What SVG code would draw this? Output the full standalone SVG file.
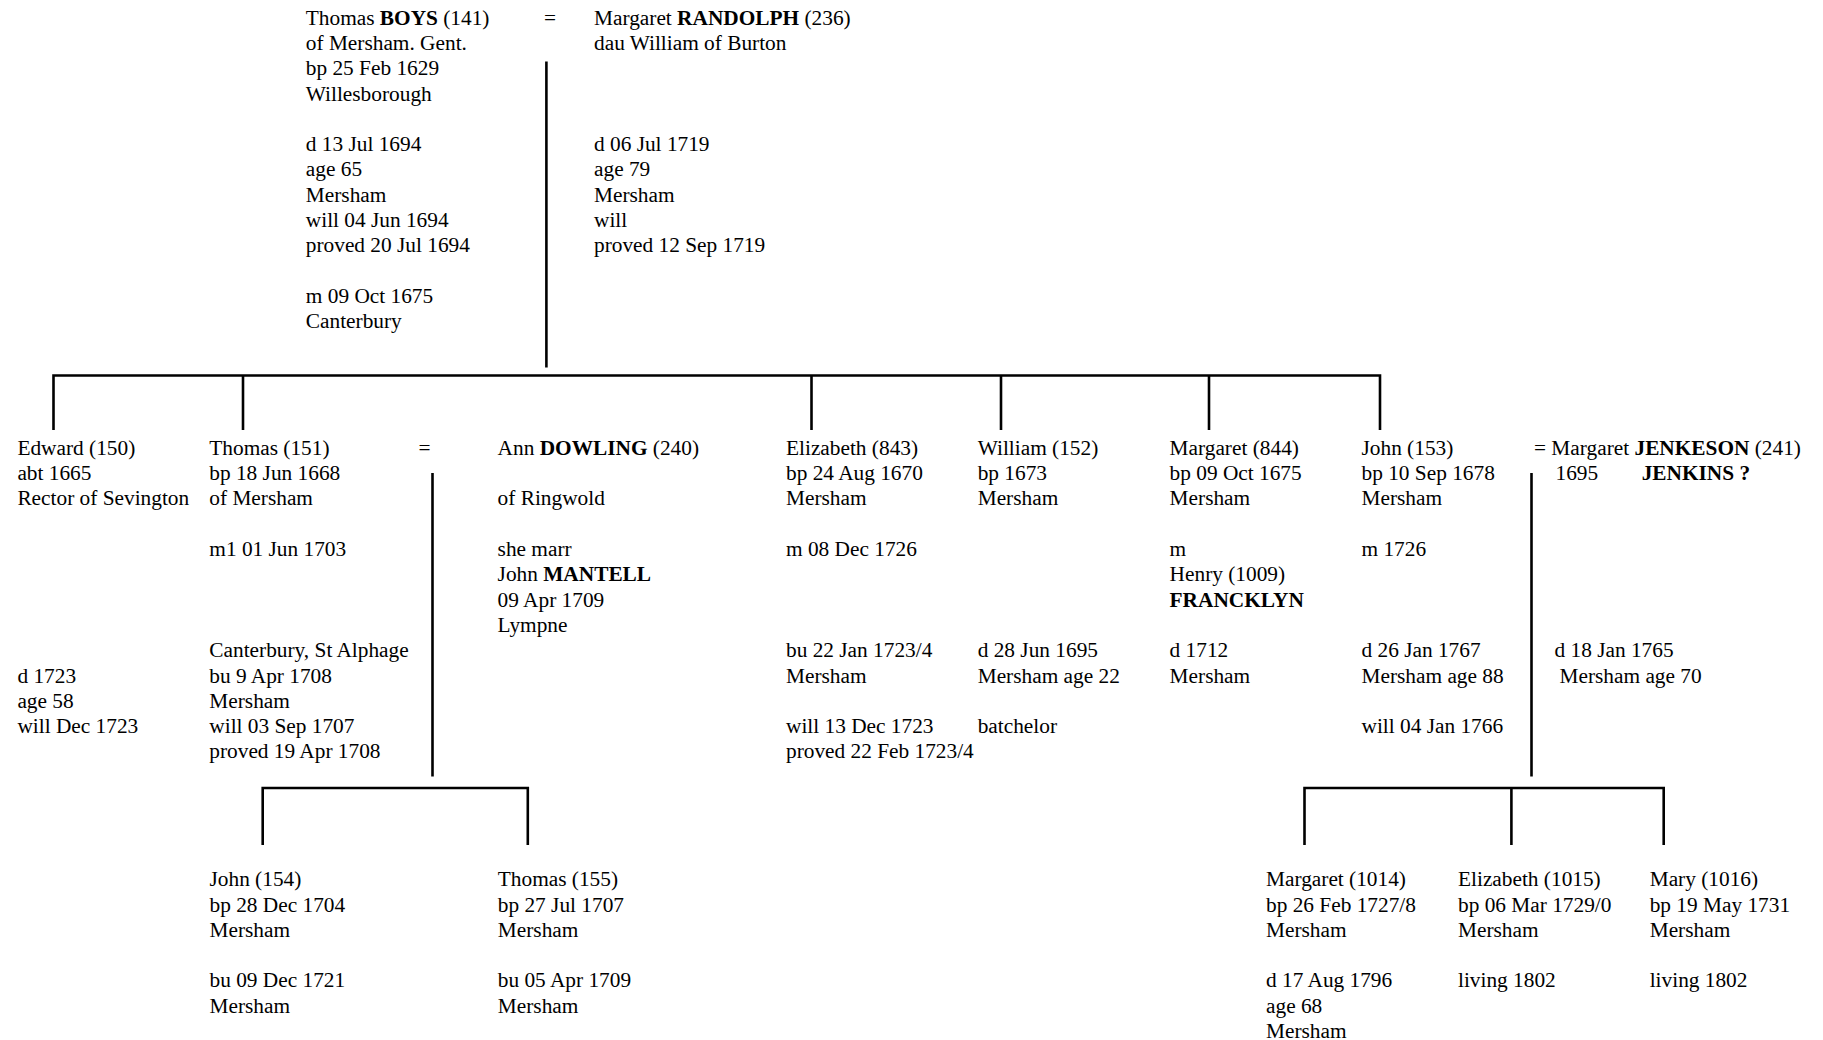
<svg xmlns="http://www.w3.org/2000/svg" width="1823" height="1040" viewBox="0 0 1823 1040">
<style>
text{font-family:"Liberation Serif","Times New Roman",serif;font-size:21.33px;fill:#000}
.b{font-weight:bold}
.ln{stroke:#000;stroke-width:2.6;fill:none}
</style>
<rect width="1823" height="1040" fill="#fff"/>
<g id="connectors">
<line class="ln" x1="546.4" y1="61.6" x2="546.4" y2="367.4"/>
<polyline class="ln" points="53.5,430 53.5,375.5 1380,375.5 1380,430"/>
<line class="ln" x1="243" y1="375.5" x2="243" y2="430"/>
<line class="ln" x1="811.5" y1="375.5" x2="811.5" y2="430"/>
<line class="ln" x1="1001" y1="375.5" x2="1001" y2="430"/>
<line class="ln" x1="1209" y1="375.5" x2="1209" y2="430"/>
<line class="ln" x1="432.5" y1="473" x2="432.5" y2="776.6"/>
<polyline class="ln" points="262.7,845 262.7,788 527.8,788 527.8,845"/>
<line class="ln" x1="1531.5" y1="473" x2="1531.5" y2="776.6"/>
<polyline class="ln" points="1304.5,845 1304.5,788 1663.7,788 1663.7,845"/>
<line class="ln" x1="1511.4" y1="788" x2="1511.4" y2="845"/>
</g>
<g id="people" transform="translate(0,1.3)">
<g id="thomas-boys-141">
<text x="305.8" y="23.4">Thomas <tspan class="b">BOYS</tspan> (141)</text>
<text x="305.8" y="48.7">of Mersham. Gent.</text>
<text x="305.8" y="74">bp 25 Feb 1629</text>
<text x="305.8" y="99.3">Willesborough</text>
<text x="305.8" y="149.9">d 13 Jul 1694</text>
<text x="305.8" y="175.2">age 65</text>
<text x="305.8" y="200.5">Mersham</text>
<text x="305.8" y="225.8">will 04 Jun 1694</text>
<text x="305.8" y="251.1">proved 20 Jul 1694</text>
<text x="305.8" y="301.7">m 09 Oct 1675</text>
<text x="305.8" y="327">Canterbury</text>
</g>
<g id="marriage-141-236"><text x="544" y="23.4">=</text></g>
<g id="margaret-randolph-236">
<text x="594" y="23.4">Margaret <tspan class="b">RANDOLPH</tspan> (236)</text>
<text x="594" y="48.7">dau William of Burton</text>
<text x="594" y="149.9">d 06 Jul 1719</text>
<text x="594" y="175.2">age 79</text>
<text x="594" y="200.5">Mersham</text>
<text x="594" y="225.8">will</text>
<text x="594" y="251.1">proved 12 Sep 1719</text>
</g>
<g id="edward-150">
<text x="17.4" y="453.6">Edward (150)</text>
<text x="17.4" y="478.9">abt 1665</text>
<text x="17.4" y="504.2">Rector of Sevington</text>
<text x="17.4" y="681.3">d 1723</text>
<text x="17.4" y="706.6">age 58</text>
<text x="17.4" y="731.9">will Dec 1723</text>
</g>
<g id="thomas-151">
<text x="209.3" y="453.6">Thomas (151)</text>
<text x="209.3" y="478.9">bp 18 Jun 1668</text>
<text x="209.3" y="504.2">of Mersham</text>
<text x="209.3" y="554.8">m1 01 Jun 1703</text>
<text x="209.3" y="656">Canterbury, St Alphage</text>
<text x="209.3" y="681.3">bu 9 Apr 1708</text>
<text x="209.3" y="706.6">Mersham</text>
<text x="209.3" y="731.9">will 03 Sep 1707</text>
<text x="209.3" y="757.2">proved 19 Apr 1708</text>
</g>
<g id="marriage-151-240"><text x="418.5" y="453.6">=</text></g>
<g id="ann-dowling-240">
<text x="497.6" y="453.6">Ann <tspan class="b">DOWLING</tspan> (240)</text>
<text x="497.6" y="504.2">of Ringwold</text>
<text x="497.6" y="554.8">she marr</text>
<text x="497.6" y="580.1">John <tspan class="b">MANTELL</tspan></text>
<text x="497.6" y="605.4">09 Apr 1709</text>
<text x="497.6" y="630.7">Lympne</text>
</g>
<g id="elizabeth-843">
<text x="786" y="453.6">Elizabeth (843)</text>
<text x="786" y="478.9">bp 24 Aug 1670</text>
<text x="786" y="504.2">Mersham</text>
<text x="786" y="554.8">m 08 Dec 1726</text>
<text x="786" y="656">bu 22 Jan 1723/4</text>
<text x="786" y="681.3">Mersham</text>
<text x="786" y="731.9">will 13 Dec 1723</text>
<text x="786" y="757.2">proved 22 Feb 1723/4</text>
</g>
<g id="william-152">
<text x="977.7" y="453.6">William (152)</text>
<text x="977.7" y="478.9">bp 1673</text>
<text x="977.7" y="504.2">Mersham</text>
<text x="977.7" y="656">d 28 Jun 1695</text>
<text x="977.7" y="681.3">Mersham age 22</text>
<text x="977.7" y="731.9">batchelor</text>
</g>
<g id="margaret-844">
<text x="1169.6" y="453.6">Margaret (844)</text>
<text x="1169.6" y="478.9">bp 09 Oct 1675</text>
<text x="1169.6" y="504.2">Mersham</text>
<text x="1169.6" y="554.8">m</text>
<text x="1169.6" y="580.1">Henry (1009)</text>
<text x="1169.6" y="605.4" class="b">FRANCKLYN</text>
<text x="1169.6" y="656">d 1712</text>
<text x="1169.6" y="681.3">Mersham</text>
</g>
<g id="john-153">
<text x="1361.5" y="453.6">John (153)</text>
<text x="1361.5" y="478.9">bp 10 Sep 1678</text>
<text x="1361.5" y="504.2">Mersham</text>
<text x="1361.5" y="554.8">m 1726</text>
<text x="1361.5" y="656">d 26 Jan 1767</text>
<text x="1361.5" y="681.3">Mersham age 88</text>
<text x="1361.5" y="731.9">will 04 Jan 1766</text>
</g>
<g id="margaret-jenkeson-241">
<text x="1534" y="453.6">= Margaret <tspan class="b">JENKESON</tspan> (241)</text>
<text x="1555.5" y="478.9">1695</text>
<text x="1641.7" y="478.9" class="b">JENKINS ?</text>
<text x="1554.5" y="656">d 18 Jan 1765</text>
<text x="1559.5" y="681.3">Mersham age 70</text>
</g>
<g id="john-154">
<text x="209.5" y="885">John (154)</text>
<text x="209.5" y="910.3">bp 28 Dec 1704</text>
<text x="209.5" y="935.6">Mersham</text>
<text x="209.5" y="986.2">bu 09 Dec 1721</text>
<text x="209.5" y="1011.5">Mersham</text>
</g>
<g id="thomas-155">
<text x="497.8" y="885">Thomas (155)</text>
<text x="497.8" y="910.3">bp 27 Jul 1707</text>
<text x="497.8" y="935.6">Mersham</text>
<text x="497.8" y="986.2">bu 05 Apr 1709</text>
<text x="497.8" y="1011.5">Mersham</text>
</g>
<g id="margaret-1014">
<text x="1266" y="885">Margaret (1014)</text>
<text x="1266" y="910.3">bp 26 Feb 1727/8</text>
<text x="1266" y="935.6">Mersham</text>
<text x="1266" y="986.2">d 17 Aug 1796</text>
<text x="1266" y="1011.5">age 68</text>
<text x="1266" y="1036.8">Mersham</text>
</g>
<g id="elizabeth-1015">
<text x="1458" y="885">Elizabeth (1015)</text>
<text x="1458" y="910.3">bp 06 Mar 1729/0</text>
<text x="1458" y="935.6">Mersham</text>
<text x="1458" y="986.2">living 1802</text>
</g>
<g id="mary-1016">
<text x="1649.7" y="885">Mary (1016)</text>
<text x="1649.7" y="910.3">bp 19 May 1731</text>
<text x="1649.7" y="935.6">Mersham</text>
<text x="1649.7" y="986.2">living 1802</text>
</g>
</g>
</svg>
